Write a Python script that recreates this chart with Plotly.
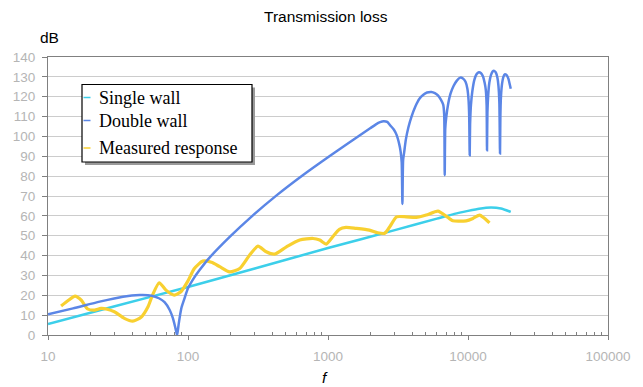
import plotly.graph_objects as go

# ---------------- data ----------------
single_f = [10, 30, 100, 300, 1000, 3000, 6000, 8000, 10000, 12000, 14600, 17200, 20200]
single_db = [5.5, 14.5, 24.2, 33.5, 43.8, 52.8, 58.6, 61.0, 62.5, 63.6, 64.2, 63.7, 62.0]

double_f = [10, 15.1, 23.4, 34.3, 45.2, 55, 62, 68, 74, 78, 81, 82.5, 83.5,
            84.5, 86, 88, 90, 95, 100, 111, 121, 139, 198.5, 283, 427, 664, 1060, 1690,
            2000, 2200, 2355, 2500, 2650, 2763, 2950, 3090, 3230, 3300, 3360, 3400,
            3440, 3500, 3600, 3750, 3950, 4200, 4500, 4800, 5100, 5480, 5800, 6100, 6400,
            6650, 6760, 6818,
            6880, 7000, 7200, 7500, 7900, 8300, 8800, 9200, 9600, 9900, 10100, 10200, 10283,
            10350, 10500, 10750, 11100, 11500, 11950, 12400, 12800, 13150, 13400, 13580, 13670,
            13760, 13950, 14200, 14600, 15000, 15400, 15800, 16200, 16500, 16750, 16930,
            17030, 17200, 17500, 17900, 18300, 18700, 19100, 19500, 19900, 20200]
double_db = [10.4, 13.4, 16.8, 19.3, 20.1, 19.8, 18.5, 16.5, 12.6, 8.5, 4.0, 1.5, 0.0,
             2.0, 6.0, 10.5, 14.0, 19.0, 23.5, 29.0, 32.7, 38.1, 49.4, 59.5, 70.2, 80.6, 90.8, 100.6,
             104.1, 106.1, 107.2, 107.7, 107.3, 105.8, 103.5, 100.8, 96.0, 92.5, 87.0, 66.0,
             88.0, 92.0, 98.5, 104.5, 110.0, 115.0, 119.0, 121.0, 122.1, 122.4, 121.8, 120.7,
             118.5, 116.0, 111.0, 80.5,
             104.0, 110.0, 116.0, 121.5, 125.5, 128.0, 129.6, 129.2, 127.5, 124.0, 118.0, 110.0, 90.5,
             106.0, 116.0, 123.0, 128.5, 131.3, 132.3, 131.8, 130.2, 127.0, 123.5, 116.0, 93.0,
             112.0, 121.0, 127.0, 131.0, 132.7, 133.0, 132.2, 129.8, 125.5, 117.0, 91.4,
             110.0, 120.0, 126.5, 130.0, 131.3, 131.2, 130.3, 128.7, 126.0, 124.0]

measured_f = [12.4, 14, 15.6, 17.3, 19.2, 21.5, 23.9, 26.5, 29.8, 35.1, 40.3, 46.2, 51.8, 55.8,
              62.3, 69.6, 79.8, 89, 99.5, 111, 127.5, 147, 168.6, 198.5, 234, 275, 316, 362,
              415, 505, 628, 782, 873, 971, 1082, 1206, 1344, 1585, 1975, 2262, 2540, 2763,
              3090, 3620, 4260, 5030, 6100, 6970, 7800, 9700, 10850, 12100, 13150, 14240]
measured_db = [14.6, 17.5, 19.6, 17.5, 13.1, 12.5, 13.4, 13.0, 11.7, 8.4, 7.0, 8.9, 14.2, 20.1,
               26.3, 22.6, 20.1, 21.8, 27.0, 33.5, 37.2, 36.6, 34.4, 31.8, 33.5, 40.2, 44.8, 41.9,
               40.7, 44.4, 47.8, 48.6, 47.8, 45.8, 49.5, 53.2, 54.2, 53.7, 52.8, 51.5, 51.2, 54.5,
               59.5, 59.5, 59.2, 60.4, 62.4, 59.9, 57.5, 57.5, 58.7, 60.4, 58.7, 56.5]

series_names = ["Single wall", "Double wall", "Measured response"]
series_colors = ["#3ccfea", "#5b86e6", "#f8d030"]

x_ticks = [10, 100, 1000, 10000, 100000]
x_tick_labels = ["10", "100", "1000", "10000", "100000"]
y_ticks = list(range(0, 141, 10))
y_tick_labels = [str(v) for v in y_ticks]

# ---------------- layout geometry ----------------
W_PX, H_PX = 643, 387
L, R, T, B = 48, 35, 57, 52
PW, PH = W_PX - L - R, H_PX - T - B


def px2x(px):
    return (px - L) / PW


def py2y(py):
    return (T + PH - py) / PH


fig = go.Figure()
fig.add_trace(go.Scatter(x=single_f, y=single_db, mode="lines", name=series_names[0],
                         line=dict(color=series_colors[0], width=2.5, shape="spline", smoothing=0.5)))
fig.add_trace(go.Scatter(x=measured_f, y=measured_db, mode="lines", name=series_names[2],
                         line=dict(color=series_colors[2], width=3.2, shape="spline", smoothing=0.6)))
fig.add_trace(go.Scatter(x=double_f, y=double_db, mode="lines", name=series_names[1],
                         line=dict(color=series_colors[1], width=2.5, shape="spline", smoothing=0.6)))

minor_vals = [m * d for d in [10, 100, 1000, 10000] for m in range(2, 10)]

axis_font = dict(family="Liberation Sans, Arial, sans-serif", size=13.5, color="#b5b5b5")

fig.update_layout(
    width=W_PX, height=H_PX,
    margin=dict(l=L, r=R, t=T, b=B, pad=0),
    paper_bgcolor="white", plot_bgcolor="white",
    showlegend=False,
    xaxis=dict(type="log", range=[1, 5], tickmode="array", tickvals=x_ticks, ticktext=x_tick_labels,
               ticks="outside", ticklen=4, tickcolor="#808080", tickwidth=1,
               showline=True, linecolor="#808080", linewidth=1.2, mirror=True,
               showgrid=False, zeroline=False, tickfont=axis_font, ticklabelstandoff=5,
               minor=dict(tickmode="array", tickvals=minor_vals, ticks="inside", ticklen=3,
                          tickcolor="#808080", tickwidth=1, showgrid=False)),
    yaxis=dict(range=[0, 140], tickmode="array", tickvals=y_ticks, ticktext=y_tick_labels,
               ticks="outside", ticklen=5, tickcolor="#808080", tickwidth=1,
               showline=True, linecolor="#808080", linewidth=1.2, mirror=True,
               showgrid=True, gridcolor="#cccccc", gridwidth=1.4, zeroline=False,
               tickfont=axis_font, ticklabelstandoff=4),
)

txt_font = dict(family="Liberation Sans, Arial, sans-serif", color="black")
annotations = [
    dict(text="Transmission loss", x=px2x(325.5), y=py2y(16), xref="paper", yref="paper",
         xanchor="center", yanchor="middle", showarrow=False, font=dict(size=15.5, **txt_font)),
    dict(text="dB", x=px2x(38), y=py2y(37), xref="paper", yref="paper",
         xanchor="left", yanchor="middle", showarrow=False, font=dict(size=15.5, **txt_font)),
    dict(text="<i>f</i>", x=px2x(325), y=py2y(377), xref="paper", yref="paper",
         xanchor="center", yanchor="middle", showarrow=False, font=dict(size=15.5, **txt_font)),
]

# manual legend box
lx0, lx1, ly0, ly1 = 82, 252, 84.5, 162
shapes = [
    dict(type="rect", xref="paper", yref="paper", x0=px2x(lx0 + 3), x1=px2x(lx1 + 3),
         y0=py2y(ly0 + 3), y1=py2y(ly1 + 3), fillcolor="#9a9a9a", line=dict(width=0), layer="above"),
    dict(type="rect", xref="paper", yref="paper", x0=px2x(lx0), x1=px2x(lx1),
         y0=py2y(ly0), y1=py2y(ly1), fillcolor="white", line=dict(color="black", width=1.2), layer="above"),
]
item_y = [97.5, 120.5, 148]
leg_order = [0, 1, 2]
for i, yy in zip(leg_order, item_y):
    shapes.append(dict(type="line", xref="paper", yref="paper", x0=px2x(83.5), x1=px2x(90.5),
                       y0=py2y(yy), y1=py2y(yy), line=dict(color=series_colors[i], width=1.5),
                       layer="above"))
    annotations.append(dict(text=series_names[i], x=px2x(96.5), y=py2y(yy), xref="paper", yref="paper",
                            xanchor="left", yanchor="middle", showarrow=False,
                            font=dict(family="Liberation Serif, Times New Roman, serif", size=18, color="black")))

fig.update_layout(annotations=annotations, shapes=shapes)
fig.write_html("out.html")
